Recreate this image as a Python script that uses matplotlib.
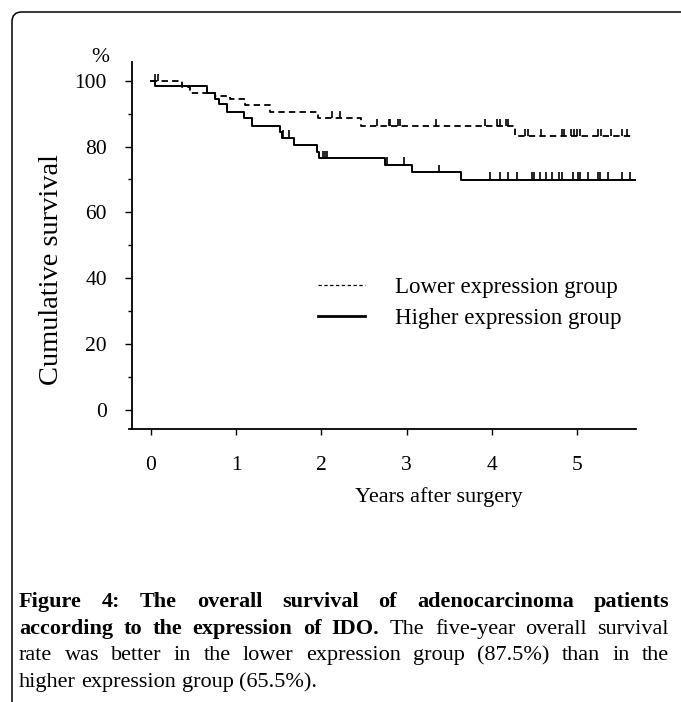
import matplotlib
matplotlib.use('Agg')
import matplotlib.pyplot as plt
from matplotlib.patches import FancyBboxPatch
from matplotlib.lines import Line2D
import numpy as np

# ---------------- data ----------------
low_times = [0, 0.37, 0.46, 0.75, 0.93, 1.11, 1.40, 1.96, 2.47, 4.27]
low_surv = [100, 98.2, 96.4, 95.4, 94.4, 92.6, 90.5, 88.6, 86.3, 83.2]
low_end = 5.65
low_censor = [0.05, 0.09, 2.12, 2.22, 2.65, 2.79, 2.81, 2.90, 2.92, 3.35,
              3.92, 4.06, 4.09, 4.17, 4.19, 4.39, 4.42, 4.58, 4.82, 4.84,
              4.93, 4.96, 5.00, 5.03, 5.25, 5.28, 5.40, 5.52, 5.58]

high_times = [0, 0.05, 0.66, 0.75, 0.80, 0.89, 1.09, 1.19, 1.52, 1.54,
              1.68, 1.95, 1.97, 2.75, 3.06, 3.64]
high_surv = [100, 98.3, 96.2, 94.5, 92.8, 90.4, 88.6, 86.2, 84.5, 82.7,
             80.5, 78.4, 76.4, 74.5, 72.2, 69.9]
high_end = 5.69
high_censor = [1.55, 1.62, 2.02, 2.04, 2.07, 2.77, 2.97, 3.38, 3.98, 4.09,
               4.19, 4.30, 4.47, 4.49, 4.57, 4.64, 4.70, 4.79, 4.82, 4.95,
               5.01, 5.03, 5.13, 5.25, 5.27, 5.36, 5.52, 5.62]

x_ticks = [0, 1, 2, 3, 4, 5]
y_ticks = [0, 20, 40, 60, 80, 100]
y_minor = [10, 30, 50, 70, 90]
series_labels = ["Lower expression group", "Higher expression group"]
x_label = "Years after surgery"
y_label = "Cumulative survival"
unit_label = "%"
caption_lines = [
    [("Figure", True), ("4:", True), ("The", True), ("overall", True), ("survival", True),
     ("of", True), ("adenocarcinoma", True), ("patients", True)],
    [("according", True), ("to", True), ("the", True), ("expression", True), ("of", True),
     ("IDO.", True), ("The", False), ("five-year", False), ("overall", False), ("survival", False)],
    [("rate", False), ("was", False), ("better", False), ("in", False), ("the", False),
     ("lower", False), ("expression", False), ("group", False), ("(87.5%)", False),
     ("than", False), ("in", False), ("the", False)],
    [("higher", False), ("expression", False), ("group", False), ("(65.5%).", False)],
]

# ---------------- figure ----------------
plt.rcParams['font.family'] = ['Liberation Serif', 'DejaVu Serif']
plt.rcParams['lines.scale_dashes'] = False

W, H = 681, 702
fig = plt.figure(figsize=(W / 100, H / 100), dpi=100)
fig.patch.set_facecolor('white')

# frame around figure area (rounded, open to the right/bottom)
frame = FancyBboxPatch((12 / W, -0.2), 1.2, 1 - 12 / H + 0.2,
                       boxstyle="round,pad=0,rounding_size=0.014",
                       transform=fig.transFigure, fill=False,
                       edgecolor='black', linewidth=1.1)
fig.patches.append(frame)

ax_l, ax_r, ax_t, ax_b = 132.3, 636.0, 62.0, 429.0
ax = fig.add_axes([ax_l / W, 1 - ax_b / H, (ax_r - ax_l) / W, (ax_b - ax_t) / H])
ax.set_xlim(-0.216, 5.69)
ax.set_ylim(-5.87, 105.7)

def step_xy(times, surv, end):
    t = list(times) + [end]
    s = list(surv) + [surv[-1]]
    return t, s

def censor_levels(times, surv, cens):
    idx = np.searchsorted(np.asarray(times), np.asarray(cens), side='right') - 1
    return np.asarray(surv)[idx]

lt, ls_ = step_xy(low_times, low_surv, low_end)
ht, hs = step_xy(high_times, high_surv, high_end)
ax.step(lt, ls_, where='post', color='black', lw=1.3, dashes=(4.6, 3.0))
ax.step(ht, hs, where='post', color='black', lw=1.4)

lc = censor_levels(low_times, low_surv, low_censor)
hc = censor_levels(high_times, high_surv, high_censor)
ax.vlines(low_censor, lc, lc + 2.2, color='black', lw=1.2)
ax.vlines(high_censor, hc, hc + 2.3, color='black', lw=1.2)

# axes styling
for s in ['top', 'right']:
    ax.spines[s].set_visible(False)
for s in ['left', 'bottom']:
    ax.spines[s].set_linewidth(1.3)
ax.spines['bottom'].set_bounds(-0.255, 5.69)

ax.set_xticks(x_ticks)
ax.set_xticklabels([str(v) for v in x_ticks])
ax.set_yticks(y_ticks)
ax.set_yticklabels([str(v) for v in y_ticks])
ax.set_yticks(y_minor, minor=True)
ax.tick_params(axis='y', which='major', length=4.8, width=1.0, pad=13.4, labelsize=15.5)
ax.tick_params(axis='y', which='minor', length=3.1, width=1.0)
ax.tick_params(axis='x', which='major', length=4.3, width=1.0, pad=15, labelsize=15.5)

ax.set_xlabel(x_label, fontsize=16)
ax.xaxis.set_label_coords((438.5 - ax_l) / (ax_r - ax_l), (ax_b - 497) / (ax_b - ax_t))
ax.xaxis.label.set_va('center')
ax.set_ylabel(y_label, fontsize=20.5, va='center')
ax.yaxis.set_label_coords((52 - ax_l) / (ax_r - ax_l), (ax_b - 270) / (ax_b - ax_t))

fig.text(100 / W, 1 - 58 / H, unit_label, fontsize=15.5, ha='center', va='center')

handles = [Line2D([], [], color='black', lw=0.9, dashes=(2.4, 1.8)),
           Line2D([], [], color='black', lw=2.0)]
ax.legend(handles, series_labels, loc='upper left',
          bbox_to_anchor=((318 - ax_l) / (ax_r - ax_l), (ax_b - 277) / (ax_b - ax_t)),
          frameon=False, fontsize=16.5, handlelength=2.05, handletextpad=1.3,
          labelspacing=0.45, borderpad=0, borderaxespad=0)

# ---------------- caption (justified) ----------------
fig.canvas.draw()
renderer = fig.canvas.get_renderer()
cap_left, cap_right = 19.0, 669.0
cap_fs = 16
base_y0, line_gap = 607.0, 26.7
space_px = 0.25 * cap_fs * 100 / 72
for li, words in enumerate(caption_lines):
    y = 1 - (base_y0 + li * line_gap) / H
    txts = []
    widths = []
    for w, bold in words:
        t = fig.text(0, y, w, fontsize=cap_fs, fontweight='bold' if bold else 'normal',
                     ha='left', va='baseline')
        txts.append(t)
        widths.append(t.get_window_extent(renderer).width)
    last = li == len(caption_lines) - 1
    if last or len(words) == 1:
        gap = space_px
    else:
        gap = (cap_right - cap_left - sum(widths)) / (len(words) - 1)
    x = cap_left
    for t, wpx in zip(txts, widths):
        t.set_x(x / W)
        x += wpx + gap

fig.savefig('out.png', dpi=100, facecolor='white')
